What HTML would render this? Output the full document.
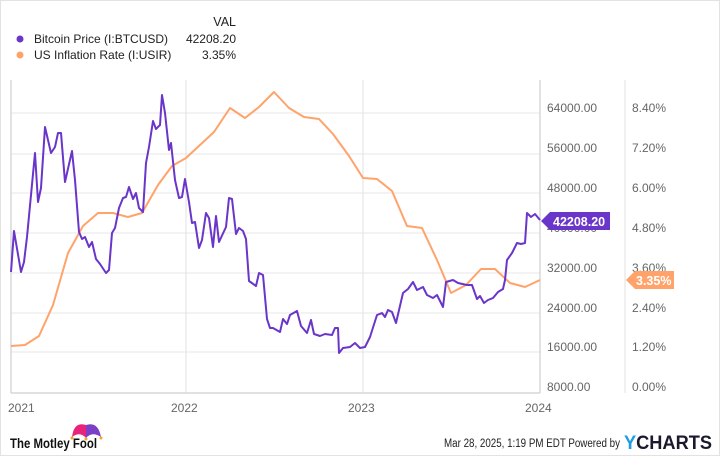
<!DOCTYPE html>
<html><head><meta charset="utf-8"><style>
body{margin:0;background:#fff;}
svg{display:block;font-family:"Liberation Sans",sans-serif;}
</style></head><body>
<svg width="720" height="456" viewBox="0 0 720 456">
<rect x="0.5" y="0.5" width="719" height="455" fill="#fff" stroke="#e2e2e2"/>
<g font-size="12" fill="#222">
<text x="236" y="26" text-anchor="end" font-size="12.5">VAL</text>
<circle cx="20" cy="39" r="3.5" fill="#6a35c9"/>
<text x="34" y="43">Bitcoin Price (I:BTCUSD)</text>
<text x="236" y="43" text-anchor="end">42208.20</text>
<circle cx="20" cy="55" r="3.5" fill="#ffa36b"/>
<text x="34" y="59">US Inflation Rate (I:USIR)</text>
<text x="236" y="59" text-anchor="end">3.35%</text>
</g>
<g stroke="#ececec" stroke-width="1.3">
<line x1="11" x2="540" y1="113" y2="113"/><line x1="11" x2="540" y1="154" y2="154"/>
<line x1="11" x2="540" y1="193" y2="193"/><line x1="11" x2="540" y1="233" y2="233"/>
<line x1="11" x2="540" y1="273" y2="273"/><line x1="11" x2="540" y1="313" y2="313"/>
<line x1="11" x2="540" y1="352" y2="352"/>
</g>
<g stroke="#e2e2e2" stroke-width="1">
<line x1="186" x2="186" y1="80" y2="393"/><line x1="363" x2="363" y1="80" y2="393"/>
<line x1="625" x2="625" y1="80" y2="393"/>
</g>
<g stroke="#cfcfcf" stroke-width="1.2">
<line x1="11" x2="11" y1="80" y2="393"/><line x1="540" x2="540" y1="80" y2="393"/>
<line x1="11" x2="540" y1="393" y2="393"/>
</g>
<g font-size="12" fill="#666">
<text x="547" y="112">64000.00</text><text x="632" y="112">8.40%</text>
<text x="547" y="152">56000.00</text><text x="632" y="152">7.20%</text>
<text x="547" y="192">48000.00</text><text x="632" y="192">6.00%</text>
<text x="547" y="232">40000.00</text><text x="632" y="232">4.80%</text>
<text x="547" y="272">32000.00</text><text x="632" y="272">3.60%</text>
<text x="547" y="312">24000.00</text><text x="632" y="312">2.40%</text>
<text x="547" y="351">16000.00</text><text x="632" y="351">1.20%</text>
<text x="547" y="391">8000.00</text><text x="632" y="391">0.00%</text>
<text x="8" y="412">2021</text><text x="171" y="412">2022</text>
<text x="348" y="412">2023</text><text x="525" y="412">2024</text>
</g>
<polyline fill="none" stroke="#ffa36b" stroke-width="2" stroke-linejoin="round" points="11,346 25,345 39,336 53,305 68,253 83,226 98,213 113,213 128,217 142,213 158,185 172,166 186,158 200,145 214,132 230,108 245,118 259,107 274,92 289,108 304,117 319,119 333,134 349,156 363,178 377,179 392,191 407,226 422,228 437,260 451,293 466,285 481,269 495,269 510,283 525,287 540,280"/>
<polyline fill="none" stroke="#6a35c9" stroke-width="2" stroke-linejoin="round" points="11,272 14,231 21,272 24,262 27,237 35,153 38,202 41,188 45,127 51,153 55,147 58,133 61,133 65,182 72,151 75,180 79,232 82,239 85,237 89,247 92,242 96,259 100,264 106,273 109,270 112,233 115,228 119,208 123,198 126,197 129,187 133,199 136,193 139,208 143,212 146,163 149,147 153,121 156,129 160,125 162,95 165,113 169,150 171,143 175,180 179,198 182,197 185,179 189,202 192,223 195,222 199,248 202,240 206,213 209,218 213,247 216,216 219,242 226,227 229,198 232,199 236,234 239,228 243,231 246,239 249,281 256,286 259,273 263,275 267,319 270,328 273,328 280,332 283,319 287,324 290,315 297,311 301,326 307,333 311,320 314,334 320,336 325,334 332,335 335,328 338,328 339,353 343,348 350,347 355,343 360,348 365,347 370,337 377,315 382,313 385,317 388,310 392,312 396,323 403,293 408,289 413,282 417,290 423,287 427,295 433,298 437,295 443,307 446,282 453,280 458,283 467,285 472,285 477,299 480,296 484,303 488,300 493,298 498,292 503,289 505,280 507,260 512,253 517,243 521,244 525,243 527,213 531,217 535,214 540,220"/>
<polygon points="541,221 550,212 610,212 610,230 550,230" fill="#6a35c9"/>
<text x="553" y="226" font-size="12.5" font-weight="bold" fill="#fff">42208.20</text>
<polygon points="626,280 635,271 674,271 674,289 635,289" fill="#ffa36b"/>
<text x="636" y="285" font-size="12.5" font-weight="bold" fill="#fff">3.35%</text>
<g>
<path d="M72,437 Q74,421 86,425 L86,438 Q80,431 72,437Z" fill="#e8237a"/>
<path d="M86,425 Q98,421 101,437 Q92,431 86,438Z" fill="#7b3fc8"/>
<circle cx="72" cy="438" r="1.5" fill="#f5a623"/><circle cx="86" cy="439" r="1.5" fill="#f5a623"/><circle cx="101" cy="438" r="1.5" fill="#f5a623"/>
<text x="10" y="448" font-size="14" font-weight="bold" fill="#111" textLength="87" lengthAdjust="spacingAndGlyphs">The Motley Fool</text>
</g>
<text x="444" y="447" font-size="11.5" fill="#222" textLength="176" lengthAdjust="spacingAndGlyphs">Mar 28, 2025, 1:19 PM EDT Powered by</text>
<text x="624" y="449" font-size="19" font-weight="bold" fill="#1a1a2e" textLength="88" lengthAdjust="spacingAndGlyphs"><tspan fill="#1e9be6">Y</tspan>CHARTS</text>
</svg>
</body></html>
